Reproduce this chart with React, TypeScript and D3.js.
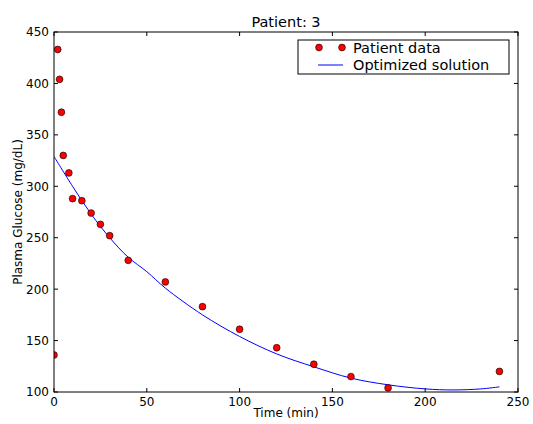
import React from 'react';
import * as d3 from 'd3';

const timeMin = [0, 2, 3, 4, 5, 8, 10, 15, 20, 25, 30, 40, 60, 80, 100, 120, 140, 160, 180, 240];
const glucose = [136, 433, 404, 372, 330, 313, 288, 286, 274, 263, 252, 228, 207, 183, 161, 143, 127, 115, 104, 120];
const fitTime = [0, 10, 20, 30, 40, 50, 60, 80, 100, 120, 140, 160, 180, 200, 215, 230, 240];
const fitGlucose = [329, 300, 273, 250, 231, 217, 201, 175, 154, 137, 124.5, 113.5, 107, 103, 102, 103, 105];
const xTicks = [0, 50, 100, 150, 200, 250];
const yTicks = [100, 150, 200, 250, 300, 350, 400, 450];
const titleText = 'Patient: 3';
const xLabel = 'Time (min)';
const yLabel = 'Plasma Glucose (mg/dL)';
const legendLabels = ['Patient data', 'Optimized solution'];

const W = 533;
const H = 424;
const L = 54, R = 518, T = 32, B = 392;
const FONT = '"DejaVu Sans", sans-serif';

export default function App() {
  const x = d3.scaleLinear().domain([0, 250]).range([L, R]);
  const y = d3.scaleLinear().domain([100, 450]).range([B, T]);
  const line = d3
    .line<number>()
    .x((_, i) => x(fitTime[i]))
    .y((d) => y(d))
    .curve(d3.curveCatmullRom.alpha(0.5));
  const tl = 4;
  return (
    <svg
      width={W}
      height={H}
      style={{ position: 'absolute', left: 0, top: 0, background: '#fff' }}
      fontFamily={FONT}
    >
      <rect x={0} y={0} width={W} height={H} fill="#fff" />
      <defs>
        <clipPath id="plotclip">
          <rect x={L} y={T} width={R - L} height={B - T} />
        </clipPath>
      </defs>
      <g clipPath="url(#plotclip)">
        <path d={line(fitGlucose) || ''} fill="none" stroke="#0000ff" strokeWidth={1} />
        {timeMin.map((t, i) => (
          <circle key={i} cx={x(t)} cy={y(glucose[i])} r={3.4} fill="#ff0000" stroke="#000" strokeWidth={0.6} />
        ))}
      </g>
      {/* frame */}
      <rect x={L} y={T} width={R - L} height={B - T} fill="none" stroke="#000" strokeWidth={1} />
      {/* x ticks */}
      {xTicks.map((t) => (
        <g key={'x' + t}>
          <line x1={x(t)} x2={x(t)} y1={B} y2={B - tl} stroke="#000" />
          <line x1={x(t)} x2={x(t)} y1={T} y2={T + tl} stroke="#000" />
          <text x={x(t)} y={406} fontSize={12} textAnchor="middle" fill="#000">
            {t}
          </text>
        </g>
      ))}
      {yTicks.map((t) => (
        <g key={'y' + t}>
          <line x1={L} x2={L + tl} y1={y(t)} y2={y(t)} stroke="#000" />
          <line x1={R} x2={R - tl} y1={y(t)} y2={y(t)} stroke="#000" />
          <text x={49} y={y(t) + 4.4} fontSize={12} textAnchor="end" fill="#000">
            {t}
          </text>
        </g>
      ))}
      <text x={(L + R) / 2} y={27} fontSize={14.5} textAnchor="middle" fill="#000">
        {titleText}
      </text>
      <text x={(L + R) / 2} y={417} fontSize={12} textAnchor="middle" fill="#000">
        {xLabel}
      </text>
      <text
        transform={`translate(22,${(T + B) / 2}) rotate(-90)`}
        fontSize={12}
        textAnchor="middle"
        fill="#000"
      >
        {yLabel}
      </text>
      {/* legend */}
      <rect x={298} y={40} width={211} height={34} fill="#fff" stroke="#000" strokeWidth={1} />
      <circle cx={319} cy={47.5} r={3.4} fill="#ff0000" stroke="#000" strokeWidth={0.6} />
      <circle cx={342} cy={47.5} r={3.4} fill="#ff0000" stroke="#000" strokeWidth={0.6} />
      <line x1={318} x2={343} y1={65} y2={65} stroke="#0000ff" strokeWidth={1} />
      <text x={353} y={53} fontSize={14.5} fill="#000">
        {legendLabels[0]}
      </text>
      <text x={353} y={70} fontSize={14.5} fill="#000">
        {legendLabels[1]}
      </text>
    </svg>
  );
}
